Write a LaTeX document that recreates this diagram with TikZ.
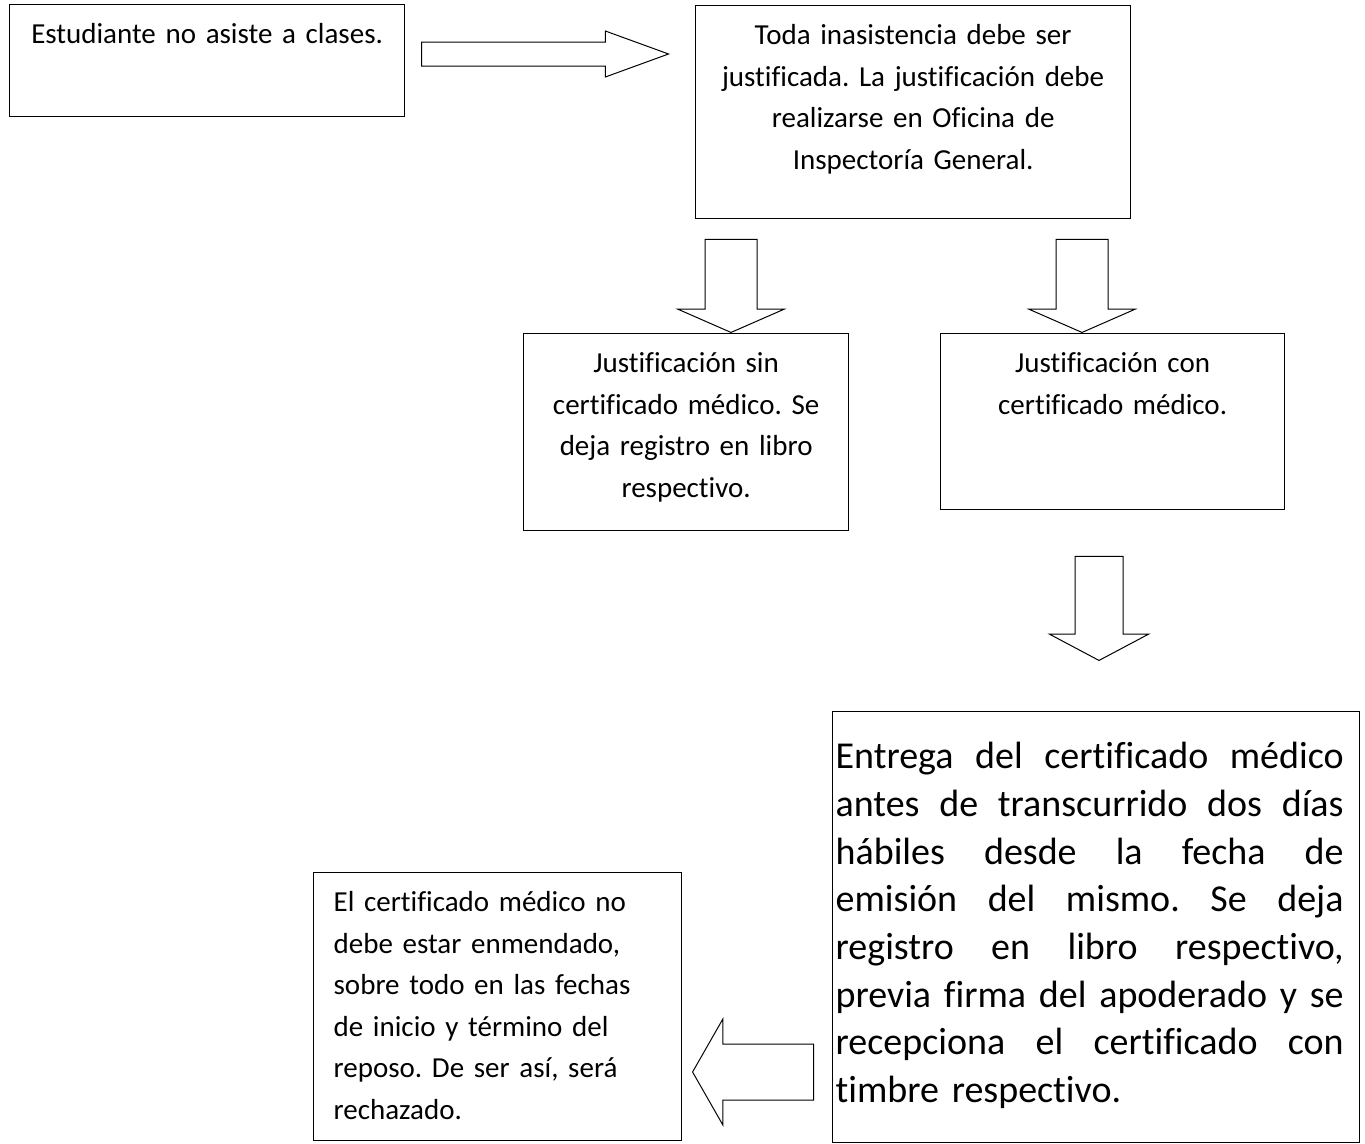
\documentclass[tikz,border=0pt]{standalone}
\usepackage{fontspec}
\setmainfont[Ligatures=NoCommon]{Carlito}
\usetikzlibrary{shapes.arrows}
\frenchspacing

\begin{document}
\begin{tikzpicture}[x=1pt,y=-1pt,
	caja/.style={draw,line width=1.3pt,anchor=north west,inner ysep=0pt,text height=39pt,font=\fontsize{29}{41.5}\selectfont},
	flecha/.style={draw,line width=1pt,single arrow,anchor=tip,minimum width=0pt,single arrow head indent=0pt}]
	\useasboundingbox (0,0) rectangle (1365,1143);
	% cajas
	\node[caja,inner xsep=10pt,text width=375pt,text depth=73pt,align=center] (estudiante) at (9,4) {Estudiante no asiste a clases.};
	\node[caja,inner xsep=10pt,text width=415pt,text depth=174pt,align=center] (justificar) at (695,5) {Toda inasistencia debe ser\\justificada. La justificación debe\\realizarse en Oficina de\\Inspectoría General.};
	\node[caja,inner xsep=10pt,text width=305pt,text depth=158pt,align=center] (sincert) at (523,333) {Justificación sin\\certificado médico. Se\\deja registro en libro\\respectivo.};
	\node[caja,inner xsep=10pt,text width=324pt,text depth=137pt,align=center] (concert) at (940,333) {Justificación con\\certificado médico.};
	\node[caja,inner xsep=0pt,text width=527pt,text height=57pt,text depth=374pt,align=left,font=\fontsize{38}{47.7}\selectfont] (entrega) at (832,711) {%
		\hspace*{3pt}\makebox[508pt][l]{Entrega \hfill del \hfill certificado \hfill médico}\\
		\hspace*{3pt}\makebox[508pt][l]{antes \hfill de \hfill transcurrido \hfill dos \hfill días}\\
		\hspace*{3pt}\makebox[508pt][l]{hábiles \hfill desde \hfill la \hfill fecha \hfill de}\\
		\hspace*{3pt}\makebox[508pt][l]{emisión \hfill del \hfill mismo. \hfill Se \hfill deja}\\
		\hspace*{3pt}\makebox[508pt][l]{registro \hfill en \hfill libro \hfill respectivo,}\\
		\hspace*{3pt}\makebox[508pt][l]{previa \hfill firma \hfill del \hfill apoderado \hfill y \hfill se}\\
		\hspace*{3pt}\makebox[508pt][l]{recepciona \hfill el \hfill certificado \hfill con}\\
		\hspace*{3pt}timbre respectivo.};
	\node[caja,inner xsep=20pt,text width=328pt,text depth=229pt,align=left] (enmienda) at (313,872) {El certificado médico no\\debe estar enmendado,\\sobre todo en las fechas\\de inicio y término del\\reposo. De ser así, será\\rechazado.};
	% flechas
	\node[flecha,inner sep=11.5pt,single arrow head extend=11pt,minimum height=247pt,single arrow tip angle=40] (fjust) at (670,54) {};
	\node[flecha,rotate=-90,inner sep=25.5pt,single arrow head extend=27pt,minimum height=93pt,single arrow tip angle=132.7] (fsin) at (731,333) {};
	\node[flecha,rotate=-90,inner sep=25.5pt,single arrow head extend=27pt,minimum height=93pt,single arrow tip angle=132.7] (fcon) at (1082,333) {};
	\node[flecha,rotate=-90,inner sep=23.5pt,single arrow head extend=25.5pt,minimum height=104pt,single arrow tip angle=124.1] (fentrega) at (1099,661) {};
	\node[flecha,rotate=180,inner sep=27.5pt,single arrow head extend=25pt,minimum height=121pt,single arrow tip angle=120.5] (fenmienda) at (692,1072) {};
\end{tikzpicture}
\end{document}
